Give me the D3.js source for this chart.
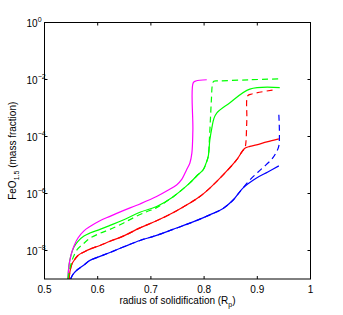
<!DOCTYPE html>
<html>
<head>
<meta charset="utf-8">
<script src="https://cdn.jsdelivr.net/npm/d3@7"></script>
<style>
  body { margin: 0; background: #fff; }
  text { font-family: "Liberation Sans", Arial, sans-serif; }
</style>
</head>
<body>
<div id="chart"></div>
<script>
// values (radius in R_p, FeO1.5 mass fraction)
var magentaX = [0.5441, 0.546, 0.5498, 0.5554, 0.5629, 0.5742, 0.5855, 0.6042, 0.623, 0.648, 0.6794, 0.7107, 0.732, 0.7483, 0.7583, 0.7671, 0.7733, 0.777, 0.7789, 0.7795, 0.7846, 0.805]
var magentaY = [1e-9, 2.9e-9, 6.9e-9, 1.45e-8, 2.75e-8, 4.9e-8, 6.9e-8, 1.1e-7, 1.58e-7, 2.5e-7, 4.3e-7, 7.8e-7, 1.29e-6, 2e-6, 3.2e-6, 6.8e-6, 1.18e-5, 2.6e-5, 1.7e-4, 7.6e-3, 8.9e-3, 9.8e-3]

var greenX = [0.5441, 0.546, 0.5498, 0.5554, 0.5629, 0.5742, 0.5855, 0.6042, 0.623, 0.648, 0.6794, 0.7107, 0.7414, 0.7733, 0.7864, 0.7983, 0.8033, 0.8077, 0.8108, 0.8146, 0.8183, 0.824, 0.848, 0.886, 0.9422]
var greenY = [1e-9, 3.1e-9, 6.9e-9, 1.32e-8, 2.1e-8, 3.2e-8, 4.1e-8, 5.5e-8, 7.6e-8, 1.18e-7, 2.2e-7, 3.5e-7, 7.6e-7, 2.35e-6, 4.2e-6, 6.8e-6, 1.1e-5, 1.96e-5, 7.6e-5, 2e-4, 4.2e-4, 6.8e-4, 1.5e-3, 4.6e-3, 5.2e-3]

var greenDashX = [0.5441, 0.548, 0.5535, 0.561, 0.5742, 0.5855, 0.6042, 0.623, 0.648, 0.67, 0.692, 0.7107, 0.7414, 0.7733, 0.7864, 0.7983, 0.8033, 0.8077, 0.8099, 0.8118, 0.8137, 0.8156, 0.8183, 0.8296, 0.886, 0.9422]
var greenDashY = [1e-9, 2.45e-9, 5.5e-9, 1.05e-8, 1.8e-8, 2.7e-8, 4e-8, 5.5e-8, 9.1e-8, 1.5e-7, 2.3e-7, 3.2e-7, 7.6e-7, 2.35e-6, 4.2e-6, 6.8e-6, 1.1e-5, 1.96e-5, 7.6e-5, 3.8e-4, 1.94e-3, 6.5e-3, 8.7e-3, 8.9e-3, 9.8e-3, 1.05e-2]

var redX = [0.546, 0.548, 0.5517, 0.5573, 0.5629, 0.5742, 0.5855, 0.6042, 0.623, 0.648, 0.6794, 0.7107, 0.7414, 0.7733, 0.792, 0.8108, 0.8358, 0.861, 0.871, 0.8766, 0.886, 0.8986, 0.918, 0.9405]
var redY = [1e-9, 1.9e-9, 3.4e-9, 5e-9, 6.7e-9, 8.9e-9, 1.12e-8, 1.5e-8, 2.1e-8, 3.2e-8, 6.2e-8, 1.1e-7, 2.1e-7, 4.6e-7, 7.8e-7, 1.55e-6, 4.5e-6, 1.5e-5, 2.9e-5, 3.9e-5, 4.5e-5, 5.1e-5, 6.5e-5, 8.3e-5]

var redDashX = [0.546, 0.548, 0.5517, 0.5573, 0.5629, 0.5742, 0.5855, 0.6042, 0.623, 0.648, 0.6794, 0.7107, 0.7414, 0.7733, 0.792, 0.8108, 0.8358, 0.861, 0.871, 0.8766, 0.8785, 0.8803, 0.8822, 0.8897, 0.933]
var redDashY = [1e-9, 1.9e-9, 3.4e-9, 5e-9, 6.7e-9, 8.9e-9, 1.12e-8, 1.5e-8, 2.1e-8, 3.2e-8, 6.2e-8, 1.1e-7, 2.1e-7, 4.6e-7, 7.8e-7, 1.55e-6, 4.5e-6, 1.5e-5, 2.9e-5, 3.9e-5, 6e-5, 3.8e-4, 2.7e-3, 3.1e-3, 4.4e-3]

var blueX = [0.5492, 0.5517, 0.5554, 0.5629, 0.5742, 0.5855, 0.6042, 0.623, 0.648, 0.6794, 0.7107, 0.7414, 0.7733, 0.8108, 0.8358, 0.8546, 0.8734, 0.8986, 0.9198, 0.9405]
var blueY = [1e-9, 1.28e-9, 1.62e-9, 2.2e-9, 3.1e-9, 4.5e-9, 6.2e-9, 8.5e-9, 1.32e-8, 2.25e-8, 3.4e-8, 5.5e-8, 9.1e-8, 1.78e-7, 3e-7, 5.9e-7, 1.58e-6, 3.5e-6, 5.7e-6, 9.3e-6]

var blueDashX = [0.5492, 0.5517, 0.5554, 0.5629, 0.5742, 0.5855, 0.6042, 0.623, 0.648, 0.6794, 0.7107, 0.7414, 0.7733, 0.8108, 0.8358, 0.8546, 0.8672, 0.886, 0.908, 0.9273, 0.9348, 0.9405, 0.9405]
var blueDashY = [1e-9, 1.28e-9, 1.62e-9, 2.2e-9, 3.1e-9, 4.5e-9, 6.2e-9, 8.5e-9, 1.32e-8, 2.25e-8, 3.4e-8, 5.5e-8, 9.1e-8, 1.78e-7, 3e-7, 5.9e-7, 1.15e-6, 3e-6, 7.3e-6, 1.6e-5, 2.6e-5, 4.7e-5, 5.8e-4]

var xTicks = [0.5, 0.6, 0.7, 0.8, 0.9, 1]
var yTickExp = [0, -2, -4, -6, -8]

var series = [
  {x: blueX, y: blueY, color: "#0000ff", dash: null},
  {x: redX, y: redY, color: "#ff0000", dash: null},
  {x: greenX, y: greenY, color: "#00ff00", dash: null},
  {x: magentaX, y: magentaY, color: "#ff00ff", dash: null},
  {x: blueDashX, y: blueDashY, color: "#0000ff", dash: "6,4"},
  {x: redDashX, y: redDashY, color: "#ff0000", dash: "6,4"},
  {x: greenDashX, y: greenDashY, color: "#00ff00", dash: "6,4"}
]

var width = 343,
    height = 315,
    margin = {left: 44.5, right: 32.5, top: 22.5, bottom: 36}

var svg = d3.select("#chart").append("svg")
  .attr("width", width)
  .attr("height", height)

var x = d3.scaleLinear().domain([0.5, 1]).range([margin.left, width - margin.right])
var y = d3.scaleLog().domain([1e-9, 1]).range([height - margin.bottom, margin.top])

svg.append("defs").append("clipPath").attr("id", "clip")
  .append("rect")
    .attr("x", margin.left).attr("y", margin.top)
    .attr("width", x(1) - x(0.5)).attr("height", y(1e-9) - y(1))

var line = d3.line()
  .x(function(d) { return x(d[0]) })
  .y(function(d) { return y(d[1]) })
  .curve(d3.curveCatmullRom.alpha(0.5))

var plot = svg.append("g").attr("clip-path", "url(#clip)")
series.forEach(function(s) {
  var pts = s.x.map(function(v, i) { return [v, s.y[i]] })
  plot.append("path")
    .datum(pts)
    .attr("d", line)
    .attr("fill", "none")
    .attr("stroke", s.color)
    .attr("stroke-width", 1.2)
    .attr("stroke-dasharray", s.dash)
})

// box and ticks (MATLAB style, ticks inside on all four sides)
var tickLen = 3
var axes = svg.append("g").attr("stroke", "#000").attr("stroke-width", 1)
axes.append("rect")
  .attr("x", x(0.5)).attr("y", y(1))
  .attr("width", x(1) - x(0.5)).attr("height", y(1e-9) - y(1))
  .attr("fill", "none")

xTicks.forEach(function(t) {
  axes.append("line").attr("x1", x(t)).attr("x2", x(t)).attr("y1", y(1e-9)).attr("y2", y(1e-9) - tickLen)
  axes.append("line").attr("x1", x(t)).attr("x2", x(t)).attr("y1", y(1)).attr("y2", y(1) + tickLen)
})
yTickExp.forEach(function(e) {
  var v = Math.pow(10, e)
  axes.append("line").attr("x1", x(0.5)).attr("x2", x(0.5) + tickLen).attr("y1", y(v)).attr("y2", y(v))
  axes.append("line").attr("x1", x(1)).attr("x2", x(1) - tickLen).attr("y1", y(v)).attr("y2", y(v))
})

// tick labels
svg.selectAll(".xlab").data(xTicks).enter().append("text")
  .attr("x", function(d) { return x(d) })
  .attr("y", y(1e-9) + 14)
  .attr("text-anchor", "middle")
  .style("font-size", "10px")
  .text(function(d) { return d3.format("")(d) })

var ylab = svg.selectAll(".ylab").data(yTickExp).enter().append("text")
  .attr("x", x(0.5) - 18)
  .attr("y", function(d) { return y(Math.pow(10, d)) + 4 })
  .attr("text-anchor", "start")
  .style("font-size", "10px")
ylab.append("tspan").text("10")
ylab.append("tspan").attr("dy", -5).style("font-size", "7px")
  .text(function(d) { return d === 0 ? "0" : "\u2212" + (-d) })

// axis titles
var xt = svg.append("text")
  .attr("x", (x(0.5) + x(1)) / 2)
  .attr("y", y(1e-9) + 25)
  .attr("text-anchor", "middle")
  .style("font-size", "10px")
xt.append("tspan").text("radius of solidification (R")
xt.append("tspan").attr("dy", 3).style("font-size", "7px").text("p")
xt.append("tspan").attr("dy", -3).text(")")

var yt = svg.append("text")
  .attr("transform", "translate(16," + ((y(1) + y(1e-9)) / 2) + ") rotate(-90)")
  .attr("text-anchor", "middle")
  .style("font-size", "10px")
yt.append("tspan").text("FeO")
yt.append("tspan").attr("dy", 3).style("font-size", "7px").text("1.5")
yt.append("tspan").attr("dy", -3).text(" (mass fraction)")
</script>
</body>
</html>
